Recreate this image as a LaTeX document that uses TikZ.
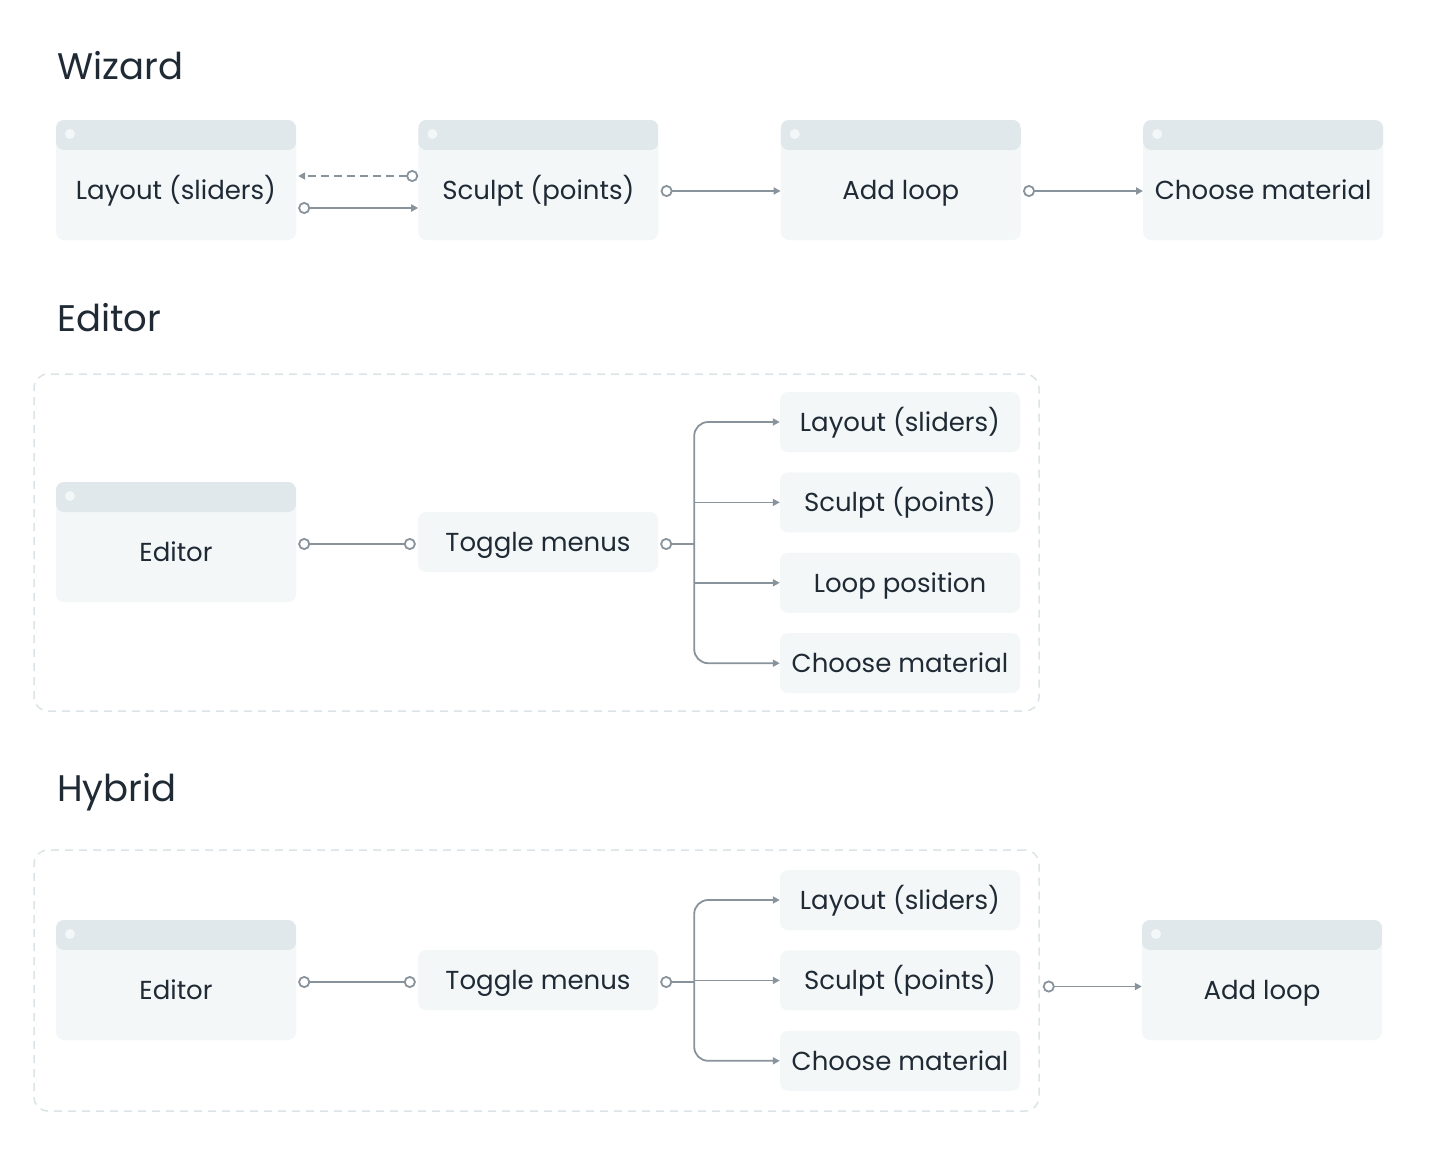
\documentclass[tikz,border=0pt]{standalone}
\usepackage{fontspec}
\setmainfont{Poppins}
\usepackage{tikz}
\usetikzlibrary{arrows.meta}
\usetikzlibrary{positioning}
\definecolor{ink}{HTML}{1F2A35}
\definecolor{linecol}{HTML}{89939C}
\definecolor{headcol}{HTML}{E1E8EB}
\definecolor{bodycol}{HTML}{F3F7F8}
\definecolor{framecol}{HTML}{DCE4E7}
\tikzset{
    window/.style={
           rectangle, rounded corners=8pt,
           fill=bodycol,
           minimum width=240pt, minimum height=120pt,
           inner sep=0pt, text height=39pt, text depth=0pt,
           font=\fontsize{26}{30}\selectfont, text=ink,
           path picture={
               \fill[headcol] (path picture bounding box.north west) rectangle ([yshift=-30pt]path picture bounding box.north east);
               \fill[bodycol] ([shift={(14pt,-14pt)}]path picture bounding box.north west) circle (5pt);
           },
           },
}
\tikzset{
    menu/.style={
           rectangle, rounded corners=8pt,
           fill=bodycol,
           minimum width=240pt, minimum height=60pt,
           inner sep=0pt, text height=24pt, text depth=5pt,
           font=\fontsize{26}{30}\selectfont, text=ink,
           },
}
\tikzset{
    frame/.style={
           rectangle, rounded corners=14pt,
           draw=framecol, line width=1.5pt,
           dash pattern=on 8pt off 6pt,
           },
}
\tikzset{
    heading/.style={
           anchor=west, inner sep=0pt,
           font=\fontsize{37}{44}\selectfont, text=ink,
           },
}
\tikzset{
    dot/.tip={Circle[open,length=12pt,width=12pt]},
    tri/.tip={Triangle[length=7pt,width=7pt]},
    conn/.style={draw=linecol, line width=1.8pt},
    arr/.style={conn, -tri},
}

\begin{document}
\begin{tikzpicture}[x=1pt,y=-1pt]
\useasboundingbox[fill=white] (0,0) rectangle (1440,1152);

% Wizard
\node[heading](twiz) at (57,66){Wizard};
\node[window](wlay) at (176,180){Layout (sliders)};
\node[window,right=122pt of wlay](wsc){Sculpt (points)};
\node[window,right=122pt of wsc](wadd){Add loop};
\node[window,right=122pt of wadd](wmat){Choose material};

\draw[conn,dot-tri,dash pattern=on 8pt off 5pt] ([yshift=4pt]wsc.west) -- ([xshift=2pt,yshift=4pt]wlay.east);
\draw[conn,dot-tri] ([xshift=2pt,yshift=-28pt]wlay.east) -- ([yshift=-28pt]wsc.west);
\draw[conn,dot-tri] ([xshift=2pt,yshift=-11pt]wsc.east) -- ([yshift=-11pt]wadd.west);
\draw[conn,dot-tri] ([xshift=2pt,yshift=-11pt]wadd.east) -- ([yshift=-11pt]wmat.west);

% Editor
\node[heading](tedi) at (57,318){Editor};
\node[frame,minimum width=1005pt,minimum height=337pt](efr) at (536.5,542.5){};
\node[window](ewin) at (176,542){Editor};
\node[menu](etog) at (538,542){Toggle menus};
\node[menu](el1) at (900,422){Layout (sliders)};
\node[menu,below=20pt of el1](el2){Sculpt (points)};
\node[menu,below=20pt of el2](el3){Loop position};
\node[menu,below=20pt of el3](el4){Choose material};

\coordinate (ej) at ([xshift=36pt,yshift=-2pt]etog.east);
\draw[conn,dot-dot] ([xshift=2pt,yshift=-2pt]ewin.east) -- ([xshift=-2pt,yshift=-2pt]etog.west);
\draw[conn,dot-] ([xshift=2pt,yshift=-2pt]etog.east) -- (ej);
\draw[arr,rounded corners=14pt] (ej) |- (el1.west);
\draw[arr,rounded corners=14pt] (ej) |- (el4.west);
\draw[arr] (ej |- el2.west) -- (el2.west);
\draw[arr] (ej |- el3.west) -- (el3.west);

% Hybrid
\node[heading](thyb) at (57,792){Hybrid};
\node[frame,minimum width=1005pt,minimum height=261pt](hfr) at (536.5,980.5){};
\node[window](hwin) at (176,980){Editor};
\node[menu](htog) at (538,980){Toggle menus};
\node[menu](hl1) at (900,900){Layout (sliders)};
\node[menu,below=20pt of hl1](hl2){Sculpt (points)};
\node[menu,below=20pt of hl2](hl3){Choose material};
\node[window](hadd) at (1262,980){Add loop};

\coordinate (hj) at ([xshift=36pt,yshift=-2pt]htog.east);
\coordinate (hout) at ([xshift=3pt,yshift=-6pt]hfr.east);
\draw[conn,dot-dot] ([xshift=2pt,yshift=-2pt]hwin.east) -- ([xshift=-2pt,yshift=-2pt]htog.west);
\draw[conn,dot-] ([xshift=2pt,yshift=-2pt]htog.east) -- (hj);
\draw[arr,rounded corners=14pt] (hj) |- (hl1.west);
\draw[arr,rounded corners=14pt] (hj) |- (hl3.west);
\draw[arr] (hj |- hl2.west) -- (hl2.west);
\draw[conn,dot-tri] (hout) -- (hout -| hadd.west);
\end{tikzpicture}
\end{document}
